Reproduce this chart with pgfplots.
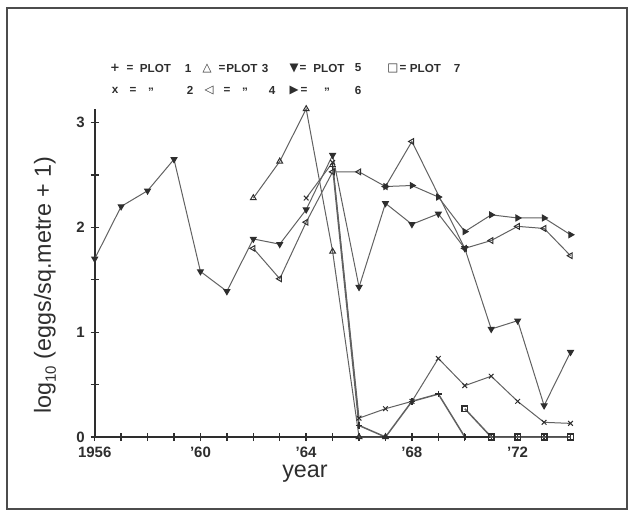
\documentclass[border=0pt]{standalone}
\usepackage{pgfplots}
\pgfplotsset{compat=1.18}
\usepackage{fontspec}
\setmainfont{Liberation Sans}
\newfontfamily\symfont{DejaVu Sans}
\definecolor{ink}{gray}{0.18}
\definecolor{trace}{gray}{0.38}

\begin{document}
\begin{tikzpicture}
% page-sized scope: 1 unit = 0.6pt, origin at the axis corner
\begin{scope}[shift={(-56.82pt,262.2pt)}, x=0.6pt, y=-0.6pt]
  \useasboundingbox (0,0) rectangle (633,524);
  \draw[line width=0.9pt, black!70] (7,8) rectangle (627,509);
  % key
  \begin{scope}[every node/.style={font=\bfseries\fontsize{7}{8}\selectfont, text=ink, inner sep=0pt}]
    \node at (115,68) {\symfont +};
    \node at (130,68) {=};
    \node at (155.5,68) {PLOT};
    \node at (188,68) {1};
    \node at (207,68) {\symfont △};
    \node at (222,68) {=};
    \node at (242,68) {PLOT};
    \node at (265,68) {3};
    \node at (294,68) {\symfont ▼};
    \node at (303,68) {=};
    \node at (329,68) {PLOT};
    \node at (358,68) {5};
    \node at (393,68) {\symfont □};
    \node at (403,68) {=};
    \node at (425.5,68) {PLOT};
    \node at (457,68) {7};
    \node at (115,90) {x};
    \node at (133,90) {=};
    \node at (151,90) {,,};
    \node at (190,90) {2};
    \node at (209,90) {\symfont ◁};
    \node at (227,90) {=};
    \node at (245,90) {,,};
    \node at (272,90) {4};
    \node at (294,90) {\symfont ▶};
    \node at (304,90) {=};
    \node at (327,90) {,,};
    \node at (358,90) {6};
  \end{scope}
  \node[font=\fontsize{14}{16}\selectfont, text=ink] at (305,474) {year};
  \node[font=\fontsize{14}{16}\selectfont, text=ink, rotate=90] at (45,285)
    {log\raisebox{-3pt}{\fontsize{9}{10}\selectfont 10} (eggs/sq.metre + 1)};
\end{scope}

\begin{axis}[
  at={(0,0)}, anchor=south west, scale only axis,
  width=285.5pt, height=196.8pt,
  xmin=1956, xmax=1974, ymin=0, ymax=3.13,
  axis x line=bottom, axis y line=left,
  axis line style={-, line width=1pt, ink},
  xtick={1956,...,1974},
  xticklabels={1956,,,,'60,,,,'64,,,,'68,,,,'72,,},
  ytick={0,0.5,...,3},
  yticklabels={0,,1,,2,,3},
  tick align=center, major tick length=5pt,
  tick style={line width=0.8pt, ink},
  ticklabel style={font=\bfseries\fontsize{9}{10}\selectfont, text=ink},
  clip=false,
  every axis plot/.append style={line width=0.6pt, trace, mark size=2pt},
]
% plot 5
\addplot[mark=triangle*, mark options={rotate=180, fill=ink, draw=ink}] coordinates {
 (1956,1.70)(1957,2.20)(1958,2.35)(1959,2.65)(1960,1.58)(1961,1.39)(1962,1.89)
 (1963,1.84)(1964,2.17)(1965,2.69)(1966,1.43)(1967,2.23)(1968,2.03)(1969,2.13)
 (1970,1.80)(1971,1.03)(1972,1.11)(1973,0.30)(1974,0.81)};
% plot 6
\addplot[mark=triangle*, mark options={rotate=-90, fill=ink, draw=ink}] coordinates {
 (1967,2.39)(1968,2.40)(1969,2.29)(1970,1.96)(1971,2.12)(1972,2.09)(1973,2.09)(1974,1.93)};
% plot 4 (no 1969 sample)
\addplot[mark=triangle, mark options={rotate=90, fill=white, draw=ink}] coordinates {
 (1962,1.80)(1963,1.51)(1964,2.05)(1965,2.53)(1966,2.53)(1967,2.39)(1968,2.82)
 (1970,1.80)(1971,1.875)(1972,2.01)(1973,1.99)(1974,1.73)};
% plot 3
\addplot[mark=triangle, mark options={fill=white, draw=ink}] coordinates {
 (1962,2.28)(1963,2.63)(1964,3.13)(1965,1.77)(1966,0)(1967,0)};
% plot 2
\addplot[mark=x, mark options={draw=ink}] coordinates {
 (1964,2.28)(1965,2.62)(1966,0.18)(1967,0.27)(1968,0.34)(1969,0.75)(1970,0.49)
 (1971,0.58)(1972,0.34)(1973,0.14)(1974,0.13)};
% plot 1
\addplot[mark=+, mark options={draw=ink}, line width=0.9pt] coordinates {
 (1965,2.58)(1966,0.11)(1967,0)(1968,0.34)(1969,0.41)(1970,0)};
% plot 7
\addplot[mark=square, mark size=1.7pt, mark options={fill=white, draw=ink}, line width=0.9pt] coordinates {
 (1970,0.27)(1971,0)(1972,0)(1973,0)(1974,0)};
\end{axis}
\end{tikzpicture}
\end{document}
